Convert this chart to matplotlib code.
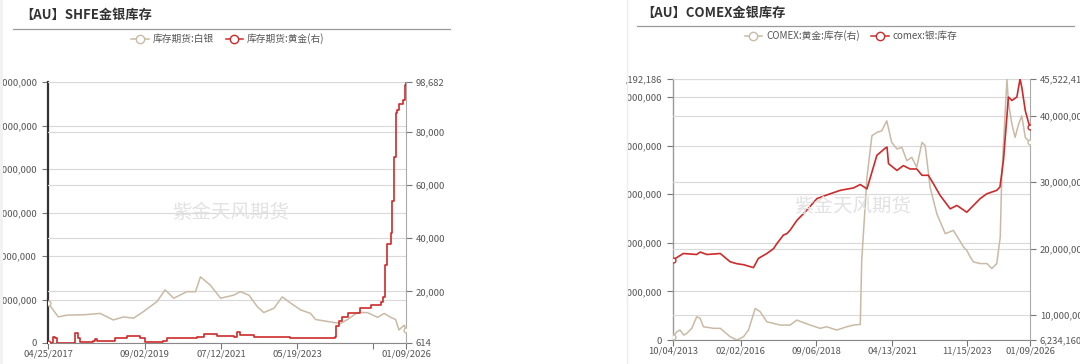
import datetime as dt
import matplotlib
matplotlib.use("Agg")
import matplotlib.pyplot as plt
from matplotlib.lines import Line2D
from matplotlib.patches import Rectangle

plt.rcParams['font.family'] = ['Noto Sans CJK SC', 'DejaVu Sans']

# ---------------- data: left chart (SHFE) ----------------
shfe_title = "【AU】SHFE金银库存"
shfe_silver_label = "库存期货:白银"
shfe_gold_label = "库存期货:黄金(右)"

shfe_silver_years = [2017.32, 2017.56, 2017.77, 2018.20, 2018.58, 2018.90, 2019.15, 2019.39,
                     2019.63, 2019.96, 2020.16, 2020.37, 2020.69, 2020.90, 2021.02, 2021.26,
                     2021.51, 2021.83, 2021.99, 2022.20, 2022.40, 2022.56, 2022.81, 2023.01,
                     2023.21, 2023.46, 2023.70, 2023.82, 2024.02, 2024.27, 2024.43, 2024.60,
                     2024.84, 2025.08, 2025.33, 2025.49, 2025.65, 2025.77, 2025.85, 2025.98,
                     2026.02]
shfe_silver_kg = [1820000, 1200000, 1280000, 1300000, 1360000, 1060000, 1200000, 1140000,
                  1440000, 1900000, 2440000, 2060000, 2360000, 2360000, 3040000, 2660000,
                  2060000, 2200000, 2360000, 2200000, 1680000, 1400000, 1600000, 2120000,
                  1840000, 1520000, 1360000, 1080000, 1020000, 940000, 900000, 1080000,
                  1400000, 1400000, 1180000, 1360000, 1180000, 1080000, 600000, 820000,
                  600000]

shfe_gold_years = [2017.32, 2017.43, 2017.44, 2017.47, 2017.52, 2017.94, 2017.96, 2018.05,
                   2018.08, 2018.41, 2018.45, 2018.50, 2018.90, 2018.94, 2019.23, 2019.55,
                   2019.67, 2020.12, 2020.20, 2020.61, 2020.93, 2021.10, 2021.42, 2021.83,
                   2021.91, 2021.99, 2022.32, 2022.89, 2023.21, 2023.78, 2024.30, 2024.33,
                   2024.40, 2024.47, 2024.60, 2024.84, 2024.90, 2025.16, 2025.41, 2025.47,
                   2025.50, 2025.57, 2025.65, 2025.69, 2025.73, 2025.77, 2025.80, 2025.85,
                   2025.96, 2026.00, 2026.02]
shfe_gold_kg = [614, 700, 2750, 2600, 700, 800, 4480, 2500,
                1100, 1200, 2000, 1200, 1200, 2370, 3250, 2370,
                1100, 1500, 2370, 2370, 2750, 3880, 3250, 3000,
                4860, 3630, 3000, 3000, 2600, 2600, 2750, 7000,
                9000, 10300, 11800, 12000, 13600, 14900, 16100, 18000,
                30000, 38000, 42000, 54000, 70600, 86900, 88000, 90600,
                91900, 97500, 98682]

shfe_left_ticks = [0, 2000000, 4000000, 6000000, 8000000, 10000000, 12000000]
shfe_right_ticks = [614, 20000, 40000, 60000, 80000, 98682]
shfe_xtick_dates = ["2017-04-25", "2019-09-02", "2021-07-12", "2023-05-19", "2025-03-18", "2026-01-09"]
shfe_xtick_labels = ["04/25/2017", "09/02/2019", "07/12/2021", "05/19/2023", "", "01/09/2026"]

# ---------------- data: right chart (COMEX) ----------------
comex_title = "【AU】COMEX金银库存"
comex_gold_label = "COMEX:黄金:库存(右)"
comex_silver_label = "comex:银:库存"

comex_silver_years = [2013.76, 2014.11, 2014.57, 2014.69, 2014.92, 2015.38, 2015.72, 2015.95,
                      2016.18, 2016.52, 2016.69, 2016.98, 2017.21, 2017.32, 2017.55, 2017.67,
                      2017.78, 2018.01, 2018.35, 2018.70, 2019.16, 2019.50, 2019.96, 2020.19,
                      2020.42, 2020.76, 2021.05, 2021.11, 2021.16, 2021.45, 2021.67, 2021.90,
                      2022.13, 2022.31, 2022.53, 2022.70, 2022.93, 2023.28, 2023.51, 2023.85,
                      2024.08, 2024.31, 2024.54, 2024.88, 2024.99, 2025.11, 2025.28, 2025.40,
                      2025.57, 2025.68, 2025.74, 2025.86, 2025.97, 2026.02]
comex_silver_oz = [165e6, 178e6, 176e6, 181e6, 176e6, 178e6, 161e6, 157e6,
                   155e6, 149e6, 168e6, 178e6, 188e6, 198e6, 216e6, 219e6,
                   226e6, 246e6, 267e6, 291e6, 301e6, 308e6, 313e6, 320e6,
                   311e6, 380e6, 395e6, 397e6, 363e6, 349e6, 359e6, 352e6,
                   352e6, 339e6, 339e6, 322e6, 298e6, 270e6, 277e6, 263e6,
                   277e6, 291e6, 301e6, 308e6, 315e6, 370e6, 500e6, 493e6,
                   500e6, 537192186, 520e6, 472e6, 448e6, 438e6]

comex_gold_years = [2013.76, 2013.89, 2014.00, 2014.12, 2014.23, 2014.40, 2014.57, 2014.69,
                    2014.80, 2015.15, 2015.38, 2015.72, 2015.95, 2016.18, 2016.35, 2016.58,
                    2016.75, 2016.98, 2017.44, 2017.78, 2018.01, 2018.47, 2018.81, 2019.04,
                    2019.38, 2019.73, 2019.96, 2020.19, 2020.24, 2020.42, 2020.59, 2020.76,
                    2020.93, 2021.10, 2021.27, 2021.45, 2021.62, 2021.79, 2021.96, 2022.13,
                    2022.31, 2022.42, 2022.59, 2022.82, 2023.11, 2023.39, 2023.74, 2023.85,
                    2023.97, 2024.08, 2024.31, 2024.54, 2024.71, 2024.88, 2025.00, 2025.05,
                    2025.23, 2025.28, 2025.40, 2025.51, 2025.63, 2025.74, 2025.86, 2026.02]
comex_gold_oz = [6.73e6, 7.48e6, 7.73e6, 6.98e6, 7.23e6, 7.99e6, 9.73e6, 9.49e6,
                 8.23e6, 7.99e6, 7.99e6, 6.73e6, 6.234160e6, 6.73e6, 7.73e6, 10.99e6,
                 10.49e6, 8.98e6, 8.48e6, 8.48e6, 9.23e6, 8.48e6, 7.99e6, 8.23e6,
                 7.73e6, 8.23e6, 8.48e6, 8.58e6, 18.23e6, 30.7e6, 36.98e6, 37.48e6,
                 37.73e6, 39.23e6, 35.98e6, 34.99e6, 35.23e6, 33.23e6, 33.73e6, 32.23e6,
                 35.98e6, 35.5e6, 29.23e6, 25.24e6, 22.24e6, 22.73e6, 20.23e6, 19.73e6,
                 18.73e6, 17.98e6, 17.74e6, 17.74e6, 16.99e6, 17.74e6, 21.73e6, 30.7e6,
                 45.522412e6, 42.0e6, 38.73e6, 36.73e6, 38.73e6, 39.98e6, 36.73e6, 35.98e6]

comex_left_ticks = [0, 100000000, 200000000, 300000000, 400000000, 500000000, 537192186]
comex_right_ticks = [6234160, 10000000, 20000000, 30000000, 40000000, 45522412]
comex_xtick_dates = ["2013-10-04", "2016-02-02", "2018-09-06", "2021-04-13", "2023-11-15", "2026-01-09"]
comex_xtick_labels = ["10/04/2013", "02/02/2016", "09/06/2018", "04/13/2021", "11/15/2023", "01/09/2026"]

watermark = "紫金天风期货"

# ---------------- styling ----------------
RED = '#cc2b2b'
TAN = '#c9baa6'
GRID = '#d9d9d9'
TXT = '#555555'
W, H = 1080, 364
FS = 6.8


def frac_year(s):
    d = dt.date.fromisoformat(s)
    start = dt.date(d.year, 1, 1)
    return d.year + (d - start).days / 365.25


def fmt(v):
    return f"{int(round(v)):,}"


def px_axes(x0, y_top, x1, y_bot):
    return [x0 / W, 1 - y_bot / H, (x1 - x0) / W, (y_bot - y_top) / H]


fig = plt.figure(figsize=(W / 100, H / 100), dpi=100)
fig.patch.set_facecolor('white')


def setup(ax, ax2, xlim, ylim1, ylim2, lt, rt, xt, xl, left_spine_color, left_lw):
    ax.set_xlim(*xlim)
    ax.set_ylim(*ylim1)
    ax2.set_ylim(*ylim2)
    ax.set_yticks(lt)
    ax.set_yticklabels([fmt(v) for v in lt])
    ax2.set_yticks(rt)
    ax2.set_yticklabels([fmt(v) for v in rt])
    ax.set_xticks([frac_year(s) for s in xt])
    ax.set_xticklabels(xl)
    for a in (ax, ax2):
        a.tick_params(labelsize=FS, colors=TXT, length=4, width=0.8)
        a.tick_params(axis='both', color='#777777')
        for s in a.spines.values():
            s.set_visible(False)
    ax.patch.set_visible(False)
    ax.spines['left'].set_visible(True)
    ax.spines['left'].set_color(left_spine_color)
    ax.spines['left'].set_linewidth(left_lw)
    ax.spines['bottom'].set_visible(True)
    ax.spines['bottom'].set_color('#888888')
    ax2.spines['right'].set_visible(True)
    ax2.spines['right'].set_color('#aaaaaa')
    ax.tick_params(axis='y', pad=4)
    ax2.tick_params(axis='y', pad=3)
    ax.tick_params(axis='x', pad=1)
    for v in lt:
        ax.axhline(v, color=GRID, lw=0.8, zorder=0)
    for v in rt:
        ax2.axhline(v, color=GRID, lw=0.8, zorder=0)


# ---- left chart ----
axL = fig.add_axes(px_axes(48, 82, 406, 343))
axL2 = axL.twinx()
setup(axL, axL2, (2017.31, 2026.02), (0, 12000000), (614, 98682),
      shfe_left_ticks, shfe_right_ticks, shfe_xtick_dates, shfe_xtick_labels, '#333333', 1.6)
axL2.plot(shfe_silver_years, shfe_silver_kg, color=TAN, lw=1.1, transform=axL.transData,
          marker='o', mfc='white', ms=3.5, markevery=[0, len(shfe_silver_years) - 1], zorder=3)
axL2.plot(shfe_gold_years, shfe_gold_kg, color=RED, lw=1.2, drawstyle='steps-post',
          marker='o', mfc='white', ms=3.5, markevery=[0], zorder=4)
axL2.set_ylim(614, 98682)

# ---- right chart ----
axR = fig.add_axes(px_axes(673, 79, 1030, 340))
axR2 = axR.twinx()
setup(axR, axR2, (2013.76, 2026.02), (0, 537192186), (6234160, 45522412),
      comex_left_ticks, comex_right_ticks, comex_xtick_dates, comex_xtick_labels, '#999999', 1.0)
axR2.plot(comex_gold_years, comex_gold_oz, color=TAN, lw=1.1,
          marker='o', mfc='white', ms=3.5, markevery=[0, len(comex_gold_years) - 1], zorder=3)
axR2.plot(comex_silver_years, comex_silver_oz, color=RED, lw=1.2, transform=axR.transData,
          marker='o', mfc='white', ms=3.5, markevery=[0, len(comex_silver_years) - 1], zorder=4)
axR2.set_ylim(6234160, 45522412)

# ---- cover between panels (the reference crops the right chart's left labels here) ----
fig.add_artist(Rectangle((458 / W, 0), (626 - 458) / W, 1, transform=fig.transFigure,
                         facecolor='white', edgecolor='none', zorder=5))
fig.add_artist(Line2D([627 / W, 627 / W], [0, 1], color='#eeeeee', lw=1, zorder=6))
fig.add_artist(Rectangle((0, 0), 3 / W, 1, transform=fig.transFigure,
                         facecolor='#f2f2f2', edgecolor='none', zorder=6))

# ---- titles, rules, legends, watermarks ----
fig.text(20 / W, 1 - 15 / H, shfe_title, fontsize=9.5, fontweight='bold', color='#333333',
         ha='left', va='center', zorder=7)
fig.text(641 / W, 1 - 13 / H, comex_title, fontsize=9.5, fontweight='bold', color='#333333',
         ha='left', va='center', zorder=7)
fig.add_artist(Line2D([13 / W, 450 / W], [1 - 29 / H] * 2, color='#9a9a9a', lw=0.9, zorder=7))
fig.add_artist(Line2D([637 / W, 1074 / W], [1 - 26 / H] * 2, color='#9a9a9a', lw=0.9, zorder=7))


def handle(c):
    return Line2D([], [], color=c, lw=1.1, marker='o', mfc='white', mec=c, ms=6)


legL = fig.legend([handle(TAN), handle(RED)], [shfe_silver_label, shfe_gold_label],
                  loc='center', bbox_to_anchor=(228 / W, 1 - 39 / H), ncol=2, frameon=False,
                  fontsize=7, handlelength=1.8, columnspacing=1.2, handletextpad=0.4,
                  labelcolor=TXT)
legR = fig.legend([handle(TAN), handle(RED)], [comex_gold_label, comex_silver_label],
                  loc='center', bbox_to_anchor=(851 / W, 1 - 36 / H), ncol=2, frameon=False,
                  fontsize=7, handlelength=1.8, columnspacing=1.2, handletextpad=0.4,
                  labelcolor=TXT)
for lg in (legL, legR):
    lg.set_zorder(7)

fig.text(231 / W, 1 - 212 / H, watermark, fontsize=14, color='#e2e2e2', ha='center',
         va='center', zorder=1)
fig.text(853 / W, 1 - 207 / H, watermark, fontsize=14, color='#e2e2e2', ha='center',
         va='center', zorder=1)

fig.savefig('out.png', dpi=100, facecolor='white')
